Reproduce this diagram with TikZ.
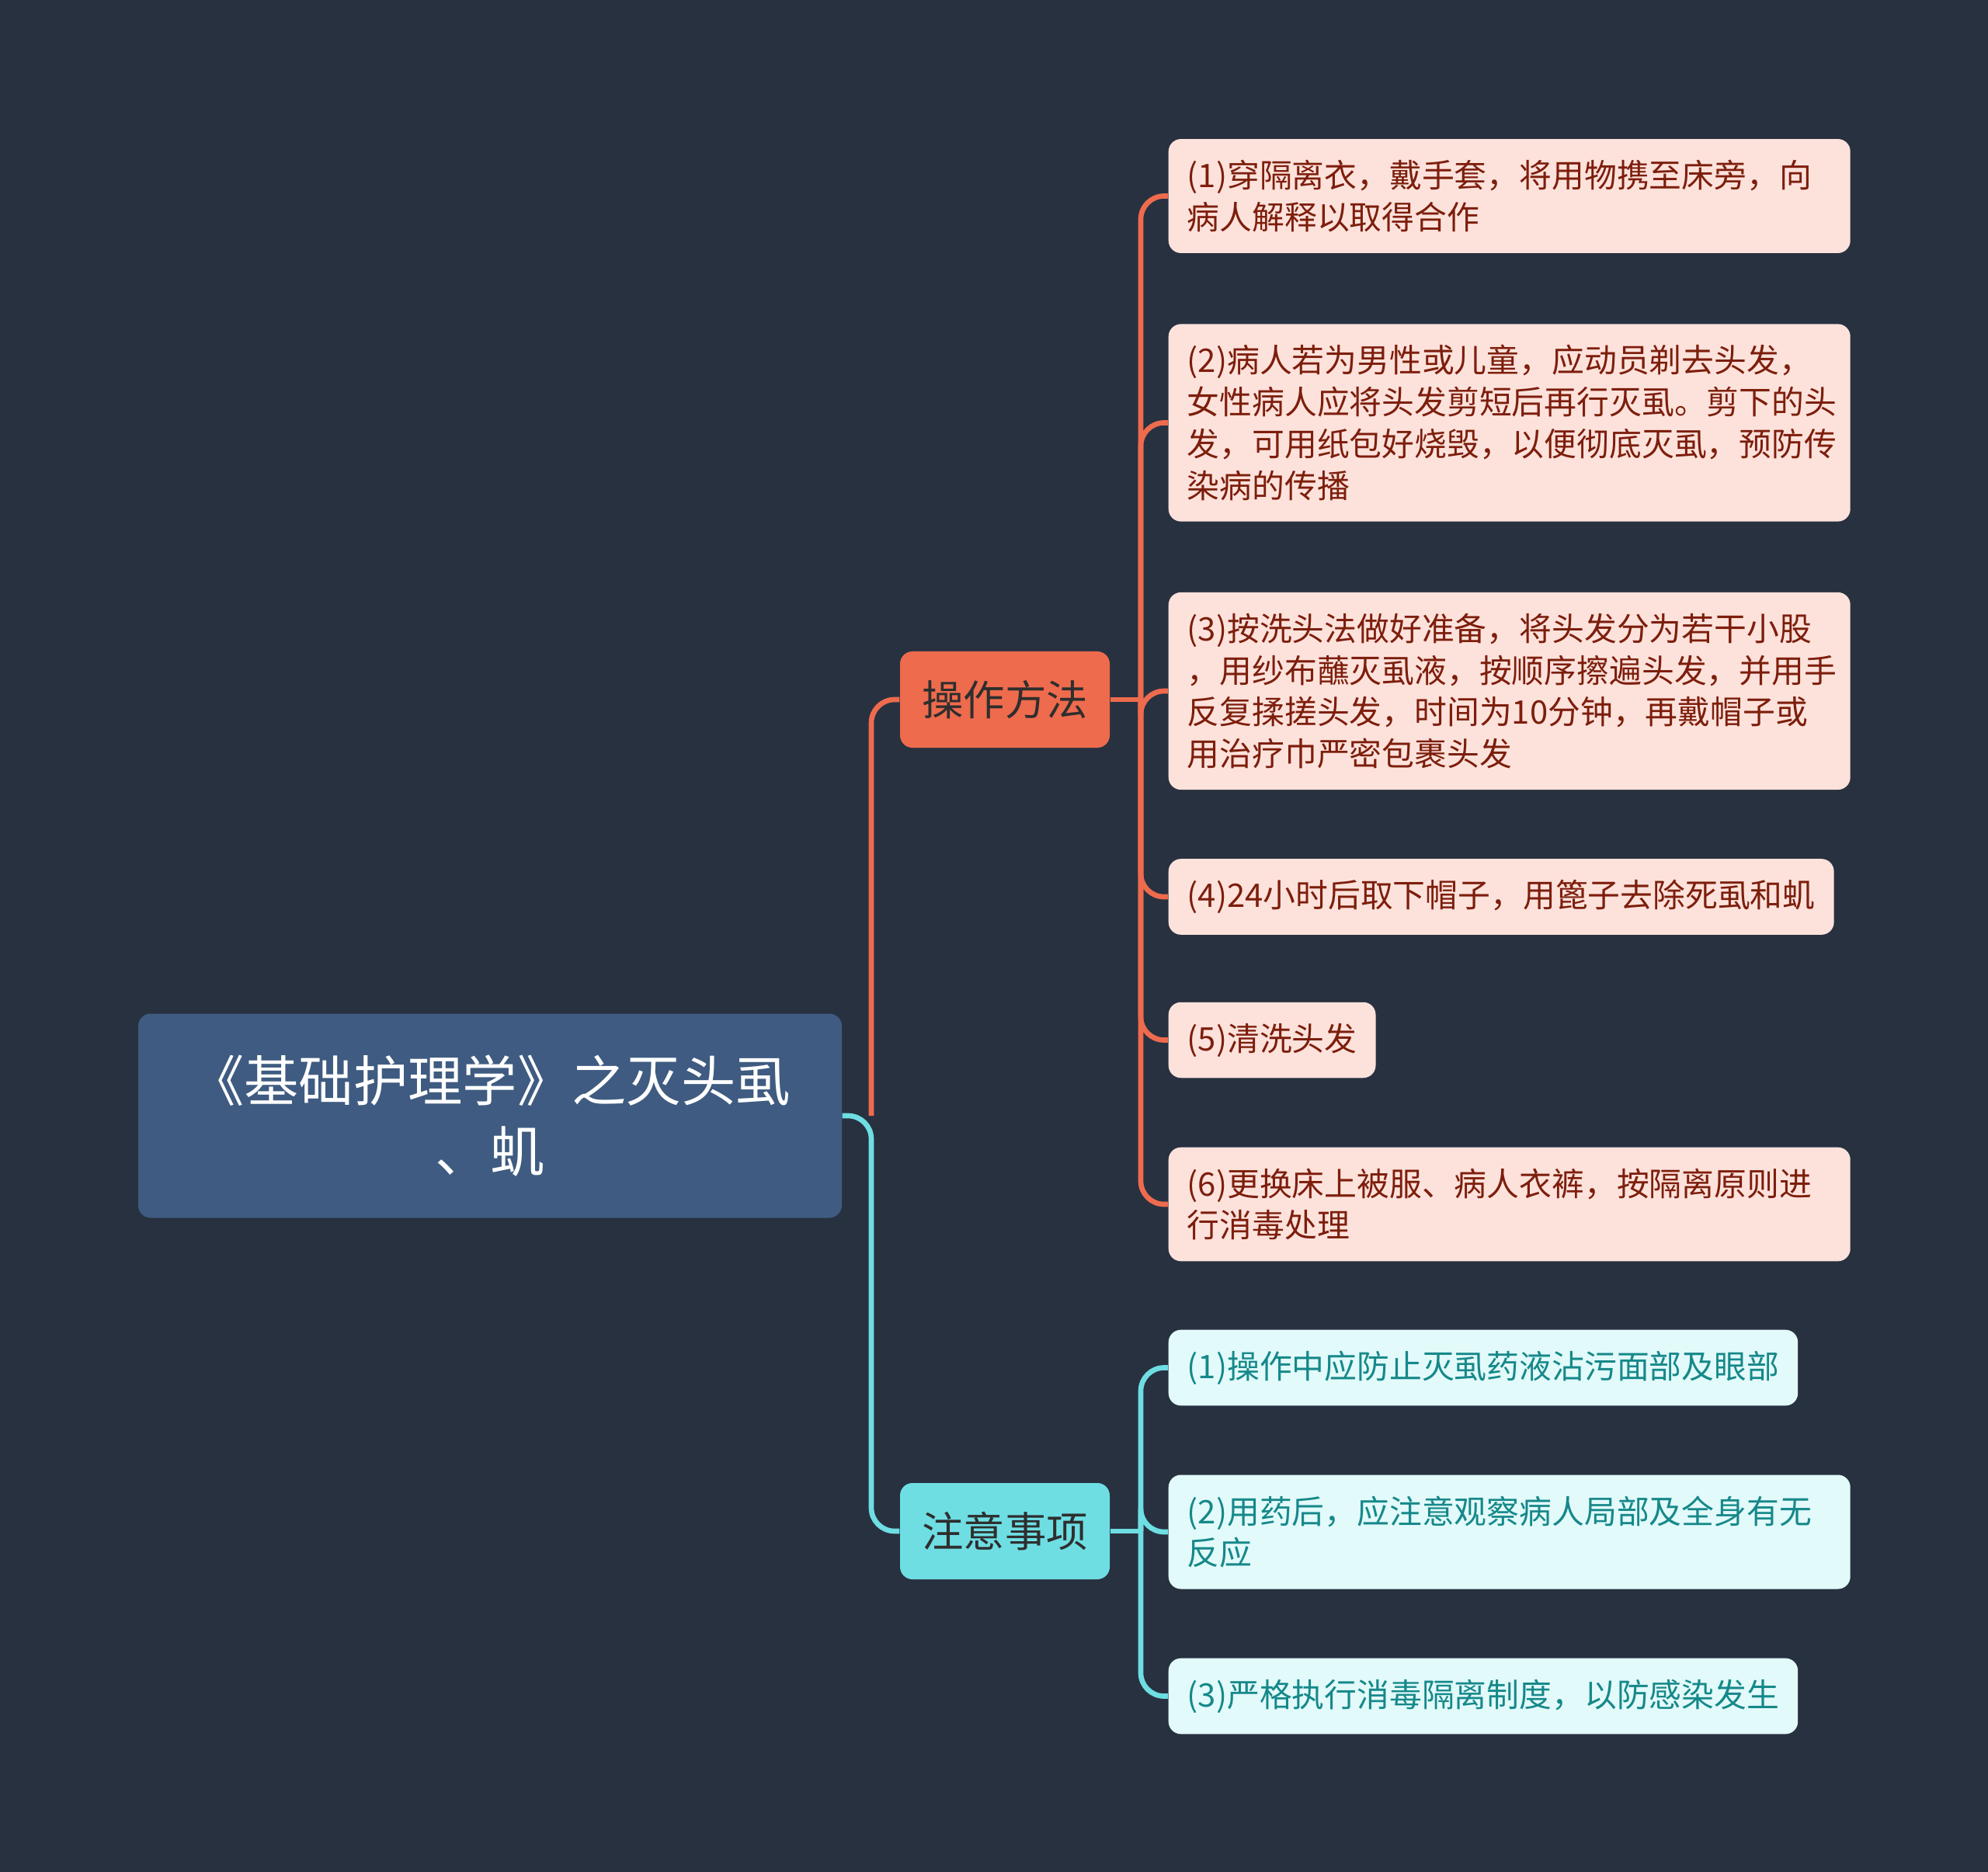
\documentclass[tikz,border=0pt]{standalone}
\usepackage{fontspec}
\setmainfont{Noto Sans CJK SC}
\usepackage{tikz}
\usetikzlibrary{positioning}
\definecolor{bgnavy}{RGB}{40, 49, 64}
\definecolor{rootblue}{RGB}{63, 91, 129}
\definecolor{coral}{RGB}{238, 107, 77}
\definecolor{coralpale}{RGB}{253, 226, 220}
\definecolor{coraltext}{RGB}{125, 30, 12}
\definecolor{aqua}{RGB}{110, 222, 227}
\definecolor{aquapale}{RGB}{226, 250, 250}
\definecolor{aquatext}{RGB}{22, 136, 138}
\definecolor{branchtext}{RGB}{46, 46, 46}

\begin{document}
\begin{tikzpicture}[
  rootbox/.style={rounded corners=0.16cm, fill=rootblue, text=white, align=center,
    minimum width=9.06cm, minimum height=2.63cm, font=\fontsize{20}{26}\selectfont},
  branchbox/.style={rounded corners=0.16cm, minimum width=2.7cm, minimum height=1.24cm,
    text=branchtext, font=\fontsize{15.2}{18}\selectfont},
  leaf/.style={rounded corners=0.16cm, anchor=west, align=left, inner xsep=0.24cm,
    inner ysep=0.27cm, font=\fontsize{11.9}{15.3}\selectfont},
  opleaf/.style={leaf, fill=coralpale, text=coraltext},
  noteleaf/.style={leaf, fill=aquapale, text=aquatext},
  wide/.style={text width=8.3cm},
  link/.style={line width=1.9pt, rounded corners=0.3cm}
]
  \fill[bgnavy] (0,0) rectangle (25.6,-24.11);
  \useasboundingbox (0,0) rectangle (25.6,-24.11);

  \node[rootbox] (root) at (6.31,-14.37) {《基础护理学》之灭头虱\\、虮};

  \node[branchbox, fill=coral] (ops) at (12.94,-9.01) {操作方法};
  \node[branchbox, fill=aqua] (notes) at (12.94,-19.72) {注意事项};

  \node[opleaf, wide] (op1) at (15.04,-2.525) {(1)穿隔离衣，戴手套，将用物携至床旁，向\\病人解释以取得合作};
  \node[opleaf, wide] (op2) at (15.04,-5.445) {(2)病人若为男性或儿童，应动员剃去头发，\\女性病人应将头发剪短后再行灭虱。剪下的头\\发，可用纸包好烧毁，以便彻底灭虱，预防传\\染病的传播};
  \node[opleaf, wide] (op3) at (15.04,-8.90) {(3)按洗头法做好准备，将头发分为若干小股\\，用纱布蘸灭虱液，按顺序擦遍头发，并用手\\反复揉搓头发，时间为10分钟，再戴帽子或\\用治疗巾严密包裹头发};
  \node[opleaf] (op4) at (15.04,-11.55) {(4)24小时后取下帽子，用篦子去除死虱和虮};
  \node[opleaf] (op5) at (15.04,-13.395) {(5)清洗头发};
  \node[opleaf, wide] (op6) at (15.04,-15.51) {(6)更换床上被服、病人衣裤，按隔离原则进\\行消毒处理};

  \node[noteleaf] (nt1) at (15.04,-17.615) {(1)操作中应防止灭虱药液沾污面部及眼部};
  \node[noteleaf, wide] (nt2) at (15.04,-19.73) {(2)用药后，应注意观察病人局部及全身有无\\反应};
  \node[noteleaf] (nt3) at (15.04,-21.845) {(3)严格执行消毒隔离制度，以防感染发生};

  \coordinate (hub) at (11.22,-14.37);
  \coordinate (opshub) at (14.69,-9.01);
  \coordinate (noteshub) at (14.69,-19.72);

  \draw[link, coral] (hub) |- (ops.west);
  \draw[link, aqua] (root.east) -- (hub) |- (notes.west);

  \draw[link, coral] (ops.east) -- (opshub);
  \foreach \leafname in {op1, op2, op3, op4, op5, op6}
    \draw[link, coral] (opshub) |- (\leafname.west);

  \draw[link, aqua] (notes.east) -- (noteshub);
  \foreach \leafname in {nt1, nt2, nt3}
    \draw[link, aqua] (noteshub) |- (\leafname.west);
\end{tikzpicture}
\end{document}
